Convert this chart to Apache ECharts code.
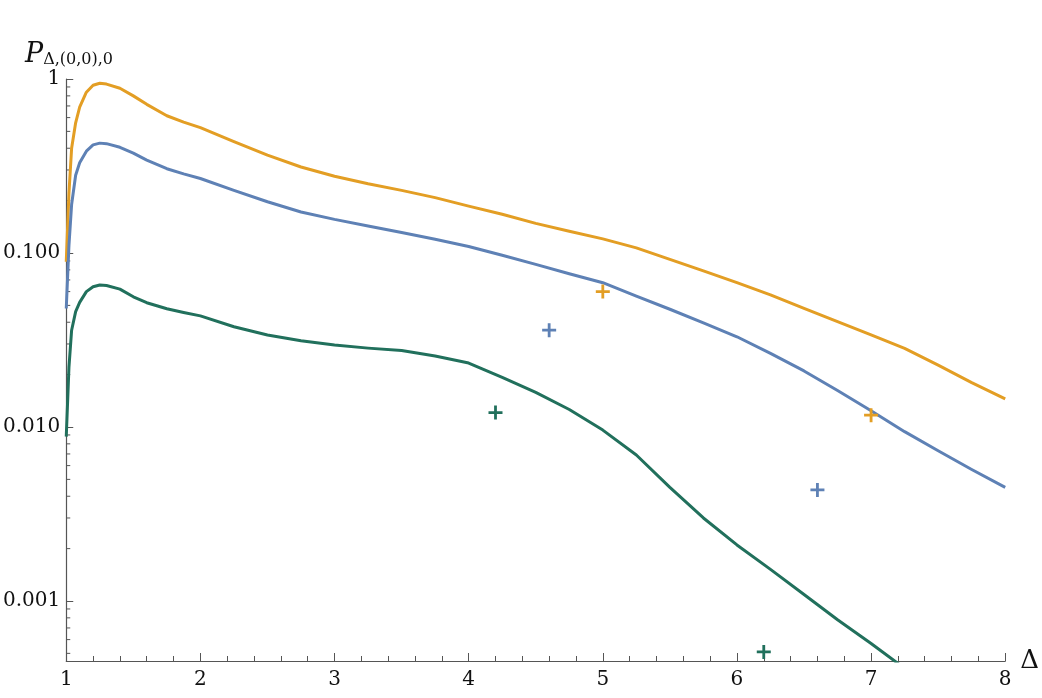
<!DOCTYPE html>
<html>
<head>
<meta charset="utf-8">
<script src="https://cdn.jsdelivr.net/npm/echarts@6/dist/echarts.min.js"></script>
<style>
  html, body { margin: 0; padding: 0; background: #fff; }
  #chart { width: 1042px; height: 698px; }
</style>
</head>
<body>
<div id="chart"></div>
<script>
// Δ grid, denser near threshold
const deltas = [1.0, 1.02, 1.04, 1.07, 1.1, 1.15, 1.2, 1.25, 1.3, 1.4, 1.5, 1.6, 1.75, 1.875,
  2.0, 2.25, 2.5, 2.75, 3.0, 3.25, 3.5, 3.75, 4.0, 4.25, 4.5, 4.75,
  5.0, 5.25, 5.5, 5.75, 6.0, 6.25, 6.5, 6.75, 7.0, 7.25, 7.5, 7.75, 8.0]

const orangeVals = [0.089, 0.22, 0.40, 0.56, 0.69, 0.84, 0.92, 0.945, 0.935, 0.885, 0.80, 0.715, 0.615, 0.565,
  0.525, 0.436, 0.365, 0.312, 0.276, 0.25, 0.229, 0.208, 0.186, 0.167, 0.148, 0.1335,
  0.1205, 0.107, 0.092, 0.079, 0.0675, 0.0575, 0.048, 0.0403, 0.0338, 0.0283, 0.0227, 0.018, 0.0145]

const blueVals = [0.048, 0.11, 0.19, 0.28, 0.33, 0.385, 0.418, 0.428, 0.425, 0.405, 0.375, 0.342, 0.305, 0.285,
  0.268, 0.229, 0.197, 0.172, 0.156, 0.143, 0.131, 0.12, 0.109, 0.097, 0.086, 0.076,
  0.0675, 0.0565, 0.0475, 0.0397, 0.033, 0.0265, 0.021, 0.0162, 0.0124, 0.0094, 0.0073, 0.0057, 0.0045]

const greenVals = [0.0088, 0.022, 0.036, 0.046, 0.052, 0.060, 0.064, 0.0655, 0.065, 0.062, 0.056, 0.0518, 0.0478, 0.0455,
  0.0435, 0.0377, 0.0338, 0.0313, 0.0296, 0.0284, 0.0275, 0.0256, 0.0233, 0.0193, 0.0158, 0.0126,
  0.0096, 0.0069, 0.0045, 0.0030, 0.0021, 0.00152, 0.00109, 0.00078, 0.00057, 0.00041]

// isolated "+" points
const orangePts = [[5.0, 0.060], [7.0, 0.0117]]
const bluePts = [[4.6, 0.036], [6.6, 0.00435]]
const greenPts = [[4.2, 0.0121], [6.2, 0.00051]]

const yTickLabels = ['0.001', '0.010', '0.100', '1']
const yTickPowers = [-3, -2, -1, 0]
const yMinorTicks = [0.0005, 0.0006, 0.0007, 0.0008, 0.0009,
  0.002, 0.003, 0.004, 0.005, 0.006, 0.007, 0.008, 0.009,
  0.02, 0.03, 0.04, 0.05, 0.06, 0.07, 0.08, 0.09,
  0.2, 0.3, 0.4, 0.5, 0.6, 0.7, 0.8, 0.9]

const ORANGE = '#E39E24'
const BLUE = '#5E81B5'
const GREEN = '#21705C'
const AXIS = '#555'
const FONT = 'DejaVu Serif'
const PLUS = 'path://M4,0H6V4H10V6H6V10H4V6H0V4H4Z'

function zip(xs, ys) {
  return ys.map((v, i) => [xs[i], v])
}

function lineSeries(vals, color) {
  return {
    type: 'line',
    data: zip(deltas, vals),
    showSymbol: false,
    lineStyle: { color: color, width: 3, join: 'round' },
    itemStyle: { color: color },
    z: 3,
  }
}

function plusSeries(pts, color) {
  return {
    type: 'scatter',
    data: pts,
    symbol: PLUS,
    symbolSize: 14,
    itemStyle: { color: color, opacity: 1 },
    z: 4,
  }
}

const chart = echarts.init(document.getElementById('chart'))

chart.setOption({
  animation: false,
  title: {
    left: 20,
    top: 33,
    text: '{p|P}{s|Δ,(0,0),0}',
    textStyle: {
      fontWeight: 'normal',
      rich: {
        p: { fontFamily: FONT, fontStyle: 'italic', fontWeight: 'normal', fontSize: 27, color: '#111', verticalAlign: 'bottom', lineHeight: 30 },
        s: { fontFamily: FONT, fontWeight: 'normal', fontSize: 16, color: '#111', verticalAlign: 'bottom', lineHeight: 30 },
      },
    },
  },
  grid: { left: 66, right: 36, top: 79, bottom: 37 },
  xAxis: {
    type: 'value',
    min: 1,
    max: 8,
    interval: 1,
    name: 'Δ',
    nameLocation: 'end',
    nameGap: 15,
    nameTextStyle: { fontFamily: FONT, fontSize: 26, color: '#111' },
    axisLine: { lineStyle: { color: AXIS, width: 1.2 } },
    axisTick: { inside: true, length: 8, lineStyle: { color: AXIS } },
    minorTick: { show: true, splitNumber: 5, length: 5, lineStyle: { color: AXIS } },
    axisLabel: { fontFamily: FONT, fontSize: 20, color: '#111', margin: 9 },
    splitLine: { show: false },
  },
  yAxis: {
    type: 'log',
    min: 0.000452,
    max: 1,
    axisLine: { show: true, lineStyle: { color: AXIS, width: 1.2 } },
    axisTick: { show: true, inside: true, length: 7, lineStyle: { color: AXIS } },
    axisLabel: {
      fontFamily: FONT, fontSize: 20, color: '#111', margin: 6,
      showMinLabel: false,
      formatter: v => {
        const i = yTickPowers.indexOf(Math.round(Math.log10(v)))
        return i < 0 ? '' : yTickLabels[i]
      },
    },
    splitLine: { show: false },
  },
  series: [
    {
      type: 'custom',
      silent: true,
      clip: false,
      data: yMinorTicks.map(v => [1, v]),
      renderItem: (params, api) => {
        const p = api.coord([api.value(0), api.value(1)])
        return {
          type: 'line',
          shape: { x1: p[0], y1: p[1], x2: p[0] + 4, y2: p[1] },
          style: { stroke: AXIS, lineWidth: 1 },
        }
      },
      z: 2,
    },
    lineSeries(orangeVals, ORANGE),
    lineSeries(blueVals, BLUE),
    lineSeries(greenVals, GREEN),
    plusSeries(orangePts, ORANGE),
    plusSeries(bluePts, BLUE),
    plusSeries(greenPts, GREEN),
  ],
})
</script>
</body>
</html>
